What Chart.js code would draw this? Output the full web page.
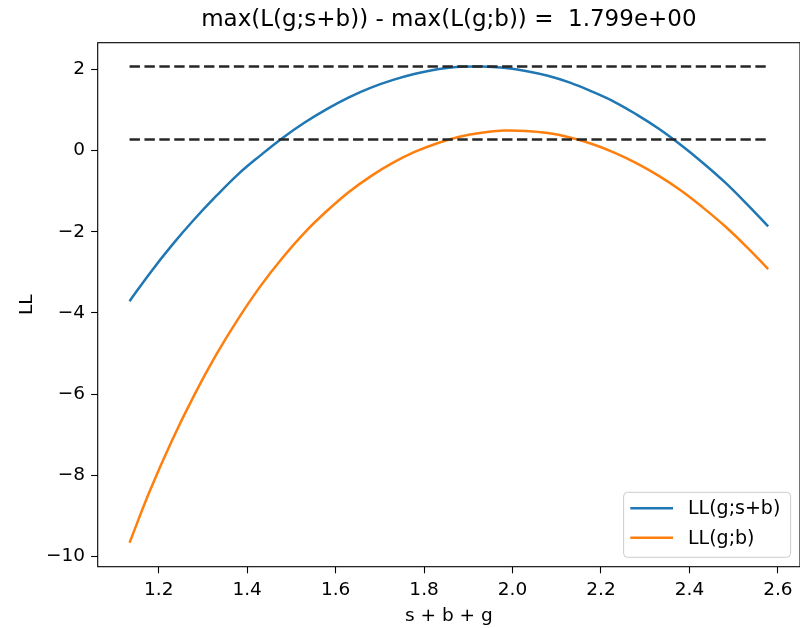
<!DOCTYPE html>
<html>
<head>
<meta charset="utf-8">
<title>LL scan</title>
<script src="https://cdn.jsdelivr.net/npm/chart.js@4.4.1/dist/chart.umd.min.js"></script>
<style>
  html, body { margin: 0; padding: 0; background: #fff; }
  #wrap { width: 800px; height: 628px; }
</style>
</head>
<body>
<div id="wrap"><canvas id="ll-chart" width="800" height="628"></canvas></div>
<script>
// values
const sbg = [1.134, 1.18, 1.23, 1.28, 1.33, 1.38, 1.43, 1.48, 1.53, 1.58, 1.63, 1.68, 1.73, 1.78, 1.83,
  1.88, 1.93, 1.98, 2.03, 2.08, 2.13, 2.18, 2.23, 2.28, 2.33, 2.38, 2.43, 2.48, 2.53, 2.578];
const llSB = [-3.71, -3.02, -2.33, -1.70, -1.12, -0.58, -0.12, 0.31, 0.69, 1.02, 1.31, 1.55, 1.74, 1.89, 2.00,
  2.06, 2.07, 2.04, 1.96, 1.84, 1.67, 1.45, 1.20, 0.89, 0.54, 0.14, -0.30, -0.78, -1.32, -1.87];
const llB = [-9.66, -8.38, -7.14, -6.03, -5.03, -4.14, -3.34, -2.64, -2.02, -1.49, -1.02, -0.63, -0.30, -0.03, 0.18,
  0.34, 0.44, 0.49, 0.48, 0.43, 0.32, 0.16, -0.05, -0.31, -0.62, -0.98, -1.40, -1.86, -2.38, -2.92];
const refLevels = [2.07, 0.27];
const xTicks = [1.2, 1.4, 1.6, 1.8, 2.0, 2.2, 2.4, 2.6];
const yTicks = [-10, -8, -6, -4, -2, 0, 2];
const titleText = 'max(L(g;s+b)) - max(L(g;b)) =  1.799e+00';

const FONT = "'DejaVu Sans', sans-serif";
const FS = 18.5;

const toPoints = (ys) => sbg.map((x, i) => ({ x, y: ys[i] }));

const datasets = [
  ...refLevels.map(level => ({
    data: [{ x: sbg[0], y: level }, { x: sbg[sbg.length - 1], y: level }],
    borderColor: '#262626',
    borderWidth: 2.5,
    borderDash: [10.4, 4.5],
    pointRadius: 0
  })),
  {
    label: 'LL(g;s+b)',
    data: toPoints(llSB),
    borderColor: '#1f77b4',
    borderWidth: 2.5,
    pointRadius: 0,
    tension: 0.4
  },
  {
    label: 'LL(g;b)',
    data: toPoints(llB),
    borderColor: '#ff7f0e',
    borderWidth: 2.5,
    pointRadius: 0,
    tension: 0.4
  }
];

// frame on all four sides + matplotlib-like legend in the lower right
const frameAndLegend = {
  id: 'frameAndLegend',
  afterDraw(chart) {
    const { ctx, chartArea: a } = chart;
    ctx.save();
    ctx.strokeStyle = '#000';
    ctx.lineWidth = 1.1;
    ctx.strokeRect(a.left, a.top, a.right - a.left, a.bottom - a.top);

    const items = chart.data.datasets.filter(d => d.label);
    const w = 167, h = 65;
    const x0 = a.right - 9.4 - w, y0 = a.bottom - 9.4 - h;
    ctx.beginPath();
    ctx.roundRect(x0, y0, w, h, 4);
    ctx.fillStyle = 'rgba(255,255,255,0.8)';
    ctx.fill();
    ctx.strokeStyle = '#cccccc';
    ctx.lineWidth = 1;
    ctx.stroke();

    ctx.font = '19px ' + FONT;
    ctx.textBaseline = 'middle';
    items.forEach((d, i) => {
      const cy = y0 + 16 + i * 29.4;
      ctx.beginPath();
      ctx.moveTo(x0 + 6.7, cy);
      ctx.lineTo(x0 + 49.4, cy);
      ctx.strokeStyle = d.borderColor;
      ctx.lineWidth = 2.5;
      ctx.stroke();
      ctx.fillStyle = '#000';
      ctx.fillText(d.label, x0 + 64.4, cy + 1);
    });
    ctx.restore();
  }
};

new Chart(document.getElementById('ll-chart'), {
  type: 'line',
  data: { datasets },
  plugins: [frameAndLegend],
  options: {
    responsive: false,
    animation: false,
    layout: { padding: 0 },
    plugins: {
      legend: { display: false },
      tooltip: { enabled: false },
      title: {
        display: true,
        text: titleText,
        fullSize: false,
        color: '#000',
        font: { family: FONT, size: 23, weight: 'normal', lineHeight: 1.2 },
        padding: { top: 6.2, bottom: 8.9 }
      }
    },
    scales: {
      x: {
        type: 'linear',
        min: 1.062,
        max: 2.650,
        afterBuildTicks: (s) => { s.ticks = xTicks.map(v => ({ value: v })); },
        afterFit: (s) => { s.height = 61.3; },
        border: { display: false },
        grid: { drawOnChartArea: false, drawTicks: true, tickLength: 6.6, tickColor: '#000', tickWidth: 1.1 },
        ticks: {
          color: '#000',
          padding: 6,
          maxRotation: 0,
          font: { family: FONT, size: FS },
          callback: (v) => Number(v).toFixed(1)
        },
        title: {
          display: true,
          text: 's + b + g',
          color: '#000',
          font: { family: FONT, size: FS },
          padding: { top: 0, bottom: 1 }
        }
      },
      y: {
        type: 'linear',
        min: -10.25,
        max: 2.655,
        afterBuildTicks: (s) => { s.ticks = yTicks.map(v => ({ value: v })); },
        afterFit: (s) => { s.width = 97.7; },
        border: { display: false },
        grid: { drawOnChartArea: false, drawTicks: true, tickLength: 6.6, tickColor: '#000', tickWidth: 1.1 },
        ticks: {
          color: '#000',
          padding: 6,
          font: { family: FONT, size: FS },
          callback: (v) => v < 0 ? '\u2212' + Math.abs(v) : String(v)
        },
        title: {
          display: true,
          text: 'LL',
          color: '#000',
          font: { family: FONT, size: FS },
          padding: { top: 16, bottom: 0 }
        }
      }
    }
  }
});
</script>
</body>
</html>
